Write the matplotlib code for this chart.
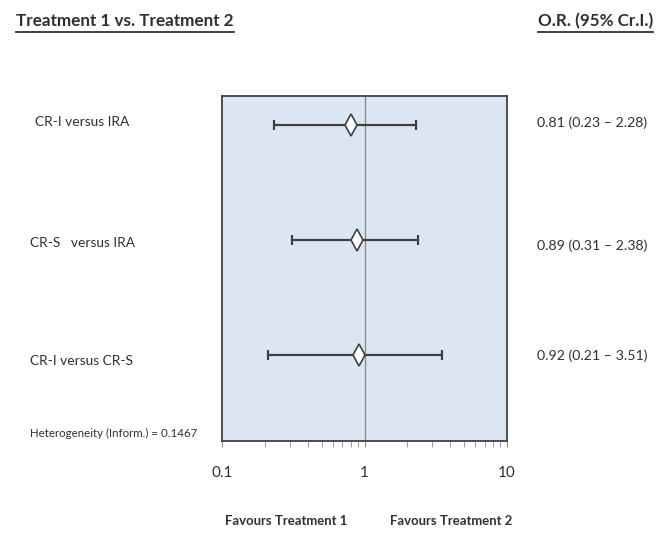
import matplotlib
matplotlib.use("Agg")
import matplotlib.pyplot as plt
from matplotlib.lines import Line2D
from matplotlib.ticker import LogLocator, FixedLocator, NullFormatter

comparisons = ["CR-I versus IRA", "CR-S   versus IRA", "CR-I versus CR-S"]
odds_ratio = [0.81, 0.89, 0.92]
lower_ci = [0.23, 0.31, 0.21]
upper_ci = [2.28, 2.38, 3.51]
or_labels = ["0.81 (0.23 \u2013 2.28)", "0.89 (0.31 \u2013 2.38)", "0.92 (0.21 \u2013 3.51)"]
x_ticks = [0.1, 1, 10]
x_tick_labels = ["0.1", "1", "10"]
heterogeneity = "Heterogeneity (Inform.) = 0.1467"

FONT = ["Lato", "Open Sans", "DejaVu Sans"]
plt.rcParams['font.family'] = FONT

fig = plt.figure(figsize=(6.66, 5.33), dpi=100)
W, H = 666, 533
ax = fig.add_axes([222 / W, 1 - 441 / H, (507 - 222) / W, (441 - 96) / H])
ax.set_facecolor("#dce6f2")
ax.set_xscale("log")
ax.set_xlim(0.1, 10)
ypos = [3, 2, 1]
ax.set_ylim(0.252, 3.252)
for s in ax.spines.values():
    s.set_color("#404040")
    s.set_linewidth(1.3)

ax.axvline(1, color="#8c8c8c", lw=1.0, zorder=1)

for y, o, lo, hi in zip(ypos, odds_ratio, lower_ci, upper_ci):
    ax.errorbar([o], [y], xerr=[[o - lo], [hi - o]], fmt="none", ecolor="#404040",
                elinewidth=1.6, capsize=3.5, capthick=1.6, zorder=2)
ax.plot(odds_ratio, ypos, linestyle="none", marker="d", markersize=11,
        markerfacecolor="white", markeredgecolor="#404040", markeredgewidth=1.2,
        zorder=3)

ax.set_yticks([])
ax.xaxis.set_major_locator(FixedLocator(x_ticks))
ax.set_xticklabels(x_tick_labels)
ax.xaxis.set_minor_locator(LogLocator(base=10, subs=range(2, 10)))
ax.xaxis.set_minor_formatter(NullFormatter())
ax.tick_params(axis="x", which="both", direction="out", color="#909090",
               labelsize=11, labelcolor="#303030", pad=14)
ax.tick_params(axis="x", which="major", length=4)
ax.tick_params(axis="x", which="minor", length=4)


def fx(px):
    return px / W


def fy(py):
    return 1 - py / H


fig.canvas.draw()
R = fig.canvas.get_renderer()


def fit_text(x_px, y_px, s, width_px, ha="left", **kw):
    t = fig.text(fx(x_px), fy(y_px), s, va="center", ha=ha, color="#303030",
                 fontsize=10, **kw)
    w = t.get_window_extent(R).width
    t.set_fontsize(10 * width_px / w)
    return t


left_x = [35, 30, 30]
left_w = [94, 105, 103]
for lab, py, lx, lw in zip(comparisons, [122, 243, 361], left_x, left_w):
    fit_text(lx, py, lab, lw)
for lab, py in zip(or_labels, [123, 246, 356]):
    fit_text(537, py, lab, 110)
fit_text(30, 433, heterogeneity, 168)

t1 = fit_text(16, 21, "Treatment 1 vs. Treatment 2", 219, fontweight="bold")
t2 = fit_text(538, 21, "O.R. (95% Cr.I.)", 114, fontweight="bold")

f1 = fit_text(286, 521, "Favours Treatment 1", 122, ha="center", fontweight="bold")
f2 = fit_text(451, 521, "Favours Treatment 2", 122, ha="center", fontweight="bold")
f2.set_fontsize(f1.get_fontsize())

fig.canvas.draw()
for t in (t1, t2):
    bb = t.get_window_extent(R)
    yline = (H - 32) / H
    fig.add_artist(Line2D([bb.x0 / W, bb.x1 / W], [yline, yline],
                          color="#303030", lw=1.3, transform=fig.transFigure))

fig.savefig("out.png", dpi=100)
